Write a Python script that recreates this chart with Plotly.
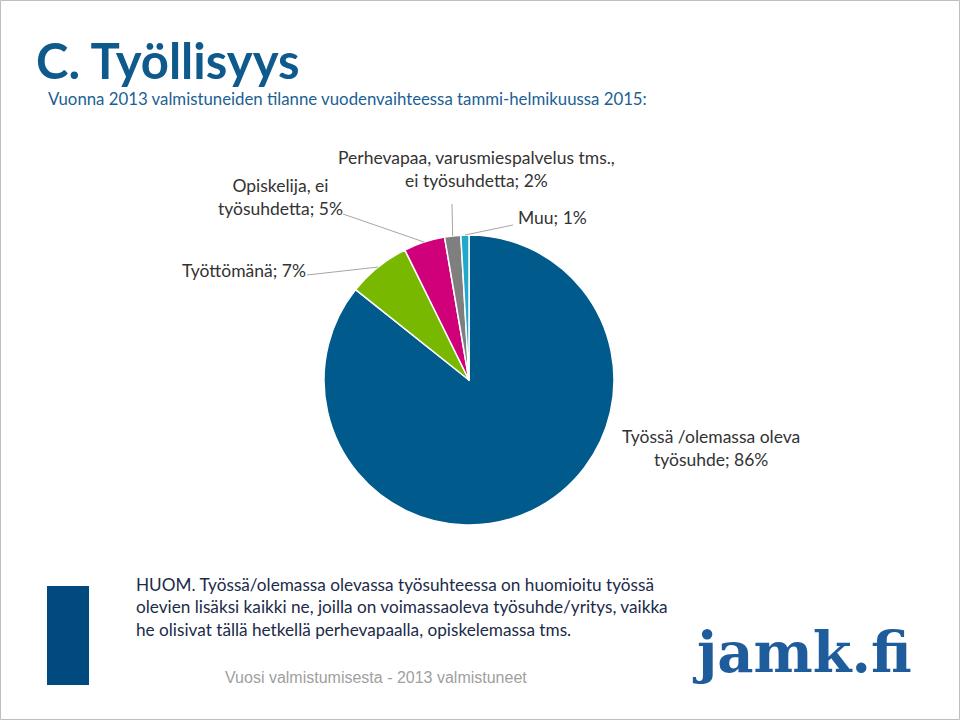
import math
import plotly.graph_objects as go

# ---- data ----
categories = [
    "Työssä /olemassa oleva työsuhde",
    "Työttömänä",
    "Opiskelija, ei työsuhdetta",
    "Perhevapaa, varusmiespalvelus tms., ei työsuhdetta",
    "Muu",
]
shares = [85.8, 7.0, 4.6, 1.8, 0.9]
label_pcts = ["86%", "7%", "5%", "2%", "1%"]
colors = ["#005A8C", "#78B800", "#D0007A", "#7F7F7F", "#22A8CA"]

W, H = 960, 720
CX, CY, R = 469, 380, 145  # pie centre / radius in pixels


def px(x):
    return x / W


def py(y):
    return 1 - y / H


fig = go.Figure(go.Pie(
    labels=categories,
    values=shares,
    sort=False,
    direction="clockwise",
    rotation=0,
    textinfo="none",
    marker=dict(colors=colors, line=dict(color="white", width=1.5)),
    showlegend=False,
    domain=dict(x=[px(CX - R), px(CX + R)], y=[py(CY + R), py(CY - R)]),
))

# leader-line end points computed from slice mid angles
total = sum(shares)
cum = 0
mid_pts = []
for v in shares:
    mid = (cum + v / 2) / total * 2 * math.pi
    cum += v
    mid_pts.append((CX + R * math.sin(mid), CY - R * math.cos(mid)))

line_col = "#A6A6A6"
label_starts = {1: (307, 275), 2: (343, 214), 3: (452, 204), 4: (513, 225)}
shapes = []
for i, (sx, sy) in label_starts.items():
    ex, ey = mid_pts[i]
    shapes.append(dict(type="line", xref="paper", yref="paper",
                       x0=px(sx), y0=py(sy), x1=px(ex), y1=py(ey),
                       line=dict(color=line_col, width=1)))

# frame and left decorative block
shapes.append(dict(type="rect", xref="paper", yref="paper", x0=0.0005, y0=0.0007,
                   x1=0.9995, y1=0.9993, line=dict(color="#BDBDBD", width=1)))
shapes.append(dict(type="rect", xref="paper", yref="paper", x0=px(47), y0=py(685),
                   x1=px(89), y1=py(586), line=dict(width=0), fillcolor="#004A80"))

lab_font = dict(family="Lato, 'Open Sans', sans-serif", size=17.5, color="#333333")
ann = []


def add(text, x, y, xa="left", ya="middle", font=None, align="left"):
    ann.append(dict(text=text, x=px(x), y=py(y), xref="paper", yref="paper",
                    xanchor=xa, yanchor=ya, showarrow=False, align=align,
                    font=font or lab_font))


add(f"{categories[1]}; {label_pcts[1]}", 308, 270, xa="right")
add(f"Opiskelija, ei<br>työsuhdetta; {label_pcts[2]}", 280, 197, xa="center", align="center")
add(f"Perhevapaa, varusmiespalvelus tms.,<br>ei työsuhdetta; {label_pcts[3]}", 476, 169,
    xa="center", align="center")
add(f"{categories[4]}; {label_pcts[4]}", 516, 217)
add(f"Työssä /olemassa oleva<br>työsuhde; {label_pcts[0]}", 711, 448, xa="center", align="center")

add("<b>C. Työllisyys</b>", 34, 60,
    font=dict(family="Lato, sans-serif", size=49, color="#0E5A8C"))
add("Vuonna 2013 valmistuneiden tilanne vuodenvaihteessa tammi-helmikuussa 2015:", 46, 99,
    font=dict(family="Lato, sans-serif", size=16.8, color="#1B5F94"))
add("HUOM. Työssä/olemassa olevassa työsuhteessa on huomioitu työssä<br>"
    "olevien lisäksi kaikki ne, joilla on voimassaoleva työsuhde/yritys, vaikka<br>"
    "he olisivat tällä hetkellä perhevapaalla, opiskelemassa tms.", 134, 607,
    font=dict(family="Lato, sans-serif", size=17.2, color="#1C2B48"))
add("Vuosi valmistumisesta - 2013 valmistuneet", 376, 677, xa="center",
    font=dict(family="'Liberation Sans', Arial, sans-serif", size=16, color="#A0A0A0"))
add("<b>jamk.fi</b>", 690, 652,
    font=dict(family="'DejaVu Serif', serif", size=56, color="#1F5C9C"))

fig.update_layout(
    width=W, height=H,
    margin=dict(l=0, r=0, t=0, b=0),
    paper_bgcolor="white", plot_bgcolor="white",
    shapes=shapes, annotations=ann,
)

fig.write_html("out.html", config={"displayModeBar": False},
               post_script="document.body.style.margin='0';document.body.style.overflow='hidden';")
